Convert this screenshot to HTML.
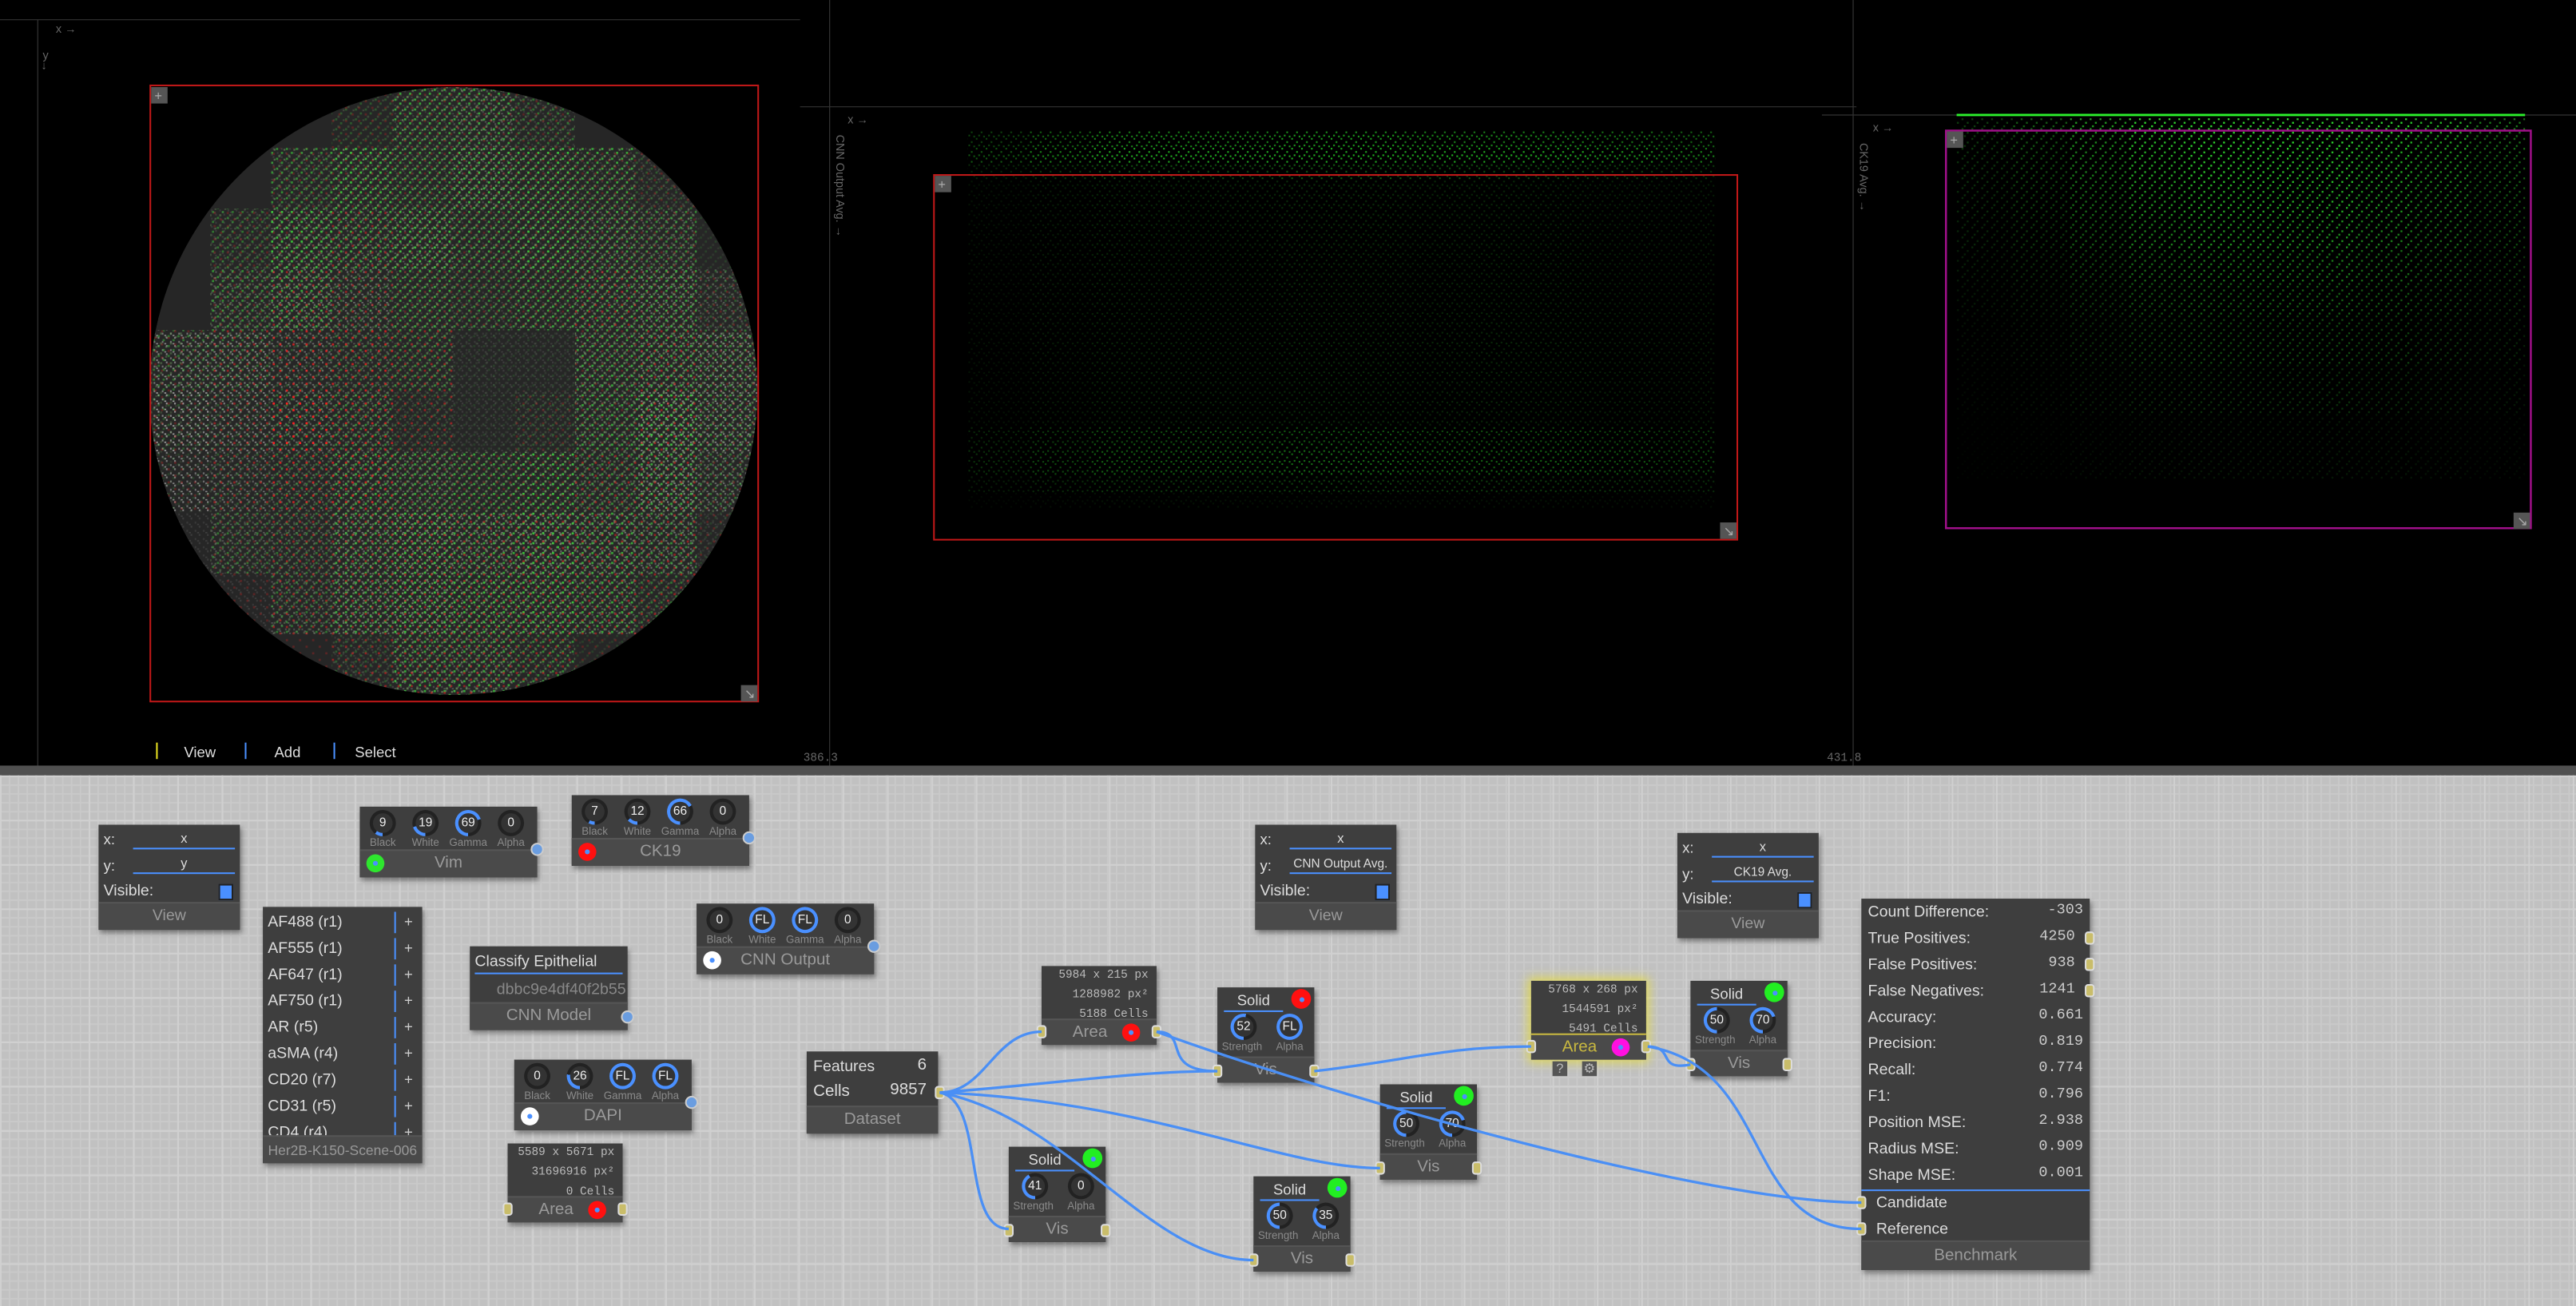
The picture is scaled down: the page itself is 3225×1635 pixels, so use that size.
<!DOCTYPE html>
<html><head><meta charset="utf-8">
<style>
html,body{margin:0;padding:0;width:3225px;height:1634px;overflow:hidden;background:#000}
#root{position:absolute;left:0;top:0;width:1568px;height:795px;transform:scale(2.05676);transform-origin:0 0;font-family:"Liberation Sans",sans-serif;overflow:hidden}
.abs{position:absolute}
#canvas{position:absolute;left:0;top:472px;width:1568px;height:323px;background-color:#c1c1c1;
background-image:linear-gradient(#d0d0d0 1px,transparent 1px),linear-gradient(90deg,#d0d0d0 1px,transparent 1px),linear-gradient(#c9c9c9 1px,transparent 1px),linear-gradient(90deg,#c9c9c9 1px,transparent 1px);
background-size:27px 27px,27px 27px,5.4px 5.4px,5.4px 5.4px}
.node{position:absolute;background:#3e3e3e;box-shadow:1px 2px 3px rgba(0,0,0,.4);color:#ddd;font-size:9px}
.foot{position:absolute;left:0;right:0;bottom:0;background:#4a4a4a;color:#9a9a9a;text-align:center;border-top:1px solid #555}
.port{position:absolute;width:6px;height:8px;background:#c9bd6a;border-radius:2px;border:1px solid #ddd;box-sizing:border-box}
.bport{position:absolute;width:8px;height:8px;border-radius:50%;background:#6a9de0;border:1px solid #ccc;box-sizing:border-box}
.knob{position:absolute;width:16px;height:16px;border-radius:50%;background:conic-gradient(from 180deg,#4a90ff calc(var(--p)*1%),#222 0)}
.knob span{position:absolute;left:2px;top:2px;width:12px;height:12px;border-radius:50%;background:#333;font-size:7.5px;color:#eee;text-align:center;line-height:12px}
.lbl{position:absolute;font-size:6.5px;color:#8a8a8a}
.dot{position:absolute;border-radius:50%}
.dot i{position:absolute;left:50%;top:50%;width:3px;height:3px;margin:-1.5px;border-radius:50%;background:#4a90ff}
.mono{font-family:"Liberation Mono",monospace}
.tbtn{position:absolute;width:9px;height:9px;background:#555;color:#bbb;font-size:8px;line-height:9px;text-align:center}
</style></head>
<body>
<div id="root">
<svg id="top" class="abs" width="1568" height="466" style="left:0;top:0;background:#000">
<defs>
<pattern id="pg" width="6" height="6" patternUnits="userSpaceOnUse"><rect x="0" y="0" width="1.3" height="1.3" fill="#3ddc3d"/><rect x="3" y="2.4" width="1.3" height="1.3" fill="#3ddc3d"/><rect x="1.4" y="4.4" width="1.3" height="1.3" fill="#6f9a5f"/><rect x="4.6" y="0.6" width="1.1" height="1.1" fill="#7a9a6a"/></pattern>
<pattern id="pw" width="5" height="5" patternUnits="userSpaceOnUse"><rect x="1" y="0" width="1" height="1.2" fill="#e8e8e8"/><rect x="3.5" y="2.5" width="1" height="1.2" fill="#cfcfcf"/><rect x="0" y="3.8" width="1.2" height="0.8" fill="#fff"/></pattern>
<pattern id="pr" width="8" height="8" patternUnits="userSpaceOnUse"><rect x="2" y="1" width="1.3" height="1.3" fill="#ff2020"/><rect x="6" y="5" width="1.3" height="1.3" fill="#ff2020"/></pattern>
<pattern id="pc" width="6" height="6" patternUnits="userSpaceOnUse"><rect x="0" y="0" width="1" height="1" fill="#22b022"/><rect x="3" y="2" width="1" height="1" fill="#22b022"/><rect x="1.5" y="4" width="1" height="1" fill="#22b022"/><rect x="4.5" y="4.6" width="1" height="1" fill="#22b022"/></pattern>
<pattern id="pk" width="6" height="6" patternUnits="userSpaceOnUse"><rect x="0" y="0" width="1.1" height="1.1" fill="#30e030"/><rect x="3.2" y="2.2" width="1.1" height="1.1" fill="#30e030"/><rect x="1.4" y="4.3" width="1.1" height="1.1" fill="#30e030"/></pattern>
<clipPath id="tclip"><circle cx="276" cy="238" r="185"/></clipPath>
</defs>
<g id="axes" stroke="#333" stroke-width="0.6">
<line x1="23" y1="12" x2="23" y2="466"/>
<line x1="0" y1="12" x2="487" y2="12"/>
<line x1="505" y1="0" x2="505" y2="466"/>
<line x1="487" y1="65" x2="1130" y2="65"/>
<line x1="1128" y1="0" x2="1128" y2="466"/>
<line x1="1109" y1="70" x2="1568" y2="70"/>
</g>
<circle cx="276" cy="238" r="185" fill="#262626"/>
<g id="tissue" clip-path="url(#tclip)"></g>
<g id="cnn"></g>
<g id="ck19"></g>
<line x1="1191" y1="70" x2="1537" y2="70" stroke="#2cf02c" stroke-width="1.4"/>
<rect x="91.5" y="52" width="370" height="375" fill="none" stroke="#c01818" stroke-width="1"/>
<rect x="568.5" y="106.5" width="489" height="222" fill="none" stroke="#c01818" stroke-width="1"/>
<rect x="1184.5" y="79.5" width="356" height="242" fill="none" stroke="#a0108a" stroke-width="1.2"/>
<g fill="#555">
<rect x="92" y="53" width="10" height="10"/>
<rect x="451" y="417" width="10" height="10"/>
<rect x="569" y="107" width="10" height="10"/>
<rect x="1047" y="318" width="10" height="10"/>
<rect x="1185" y="80" width="10" height="10"/>
<rect x="1530" y="312" width="10" height="10"/>
</g>
<g fill="#aaa" font-size="8" font-family="Liberation Sans, sans-serif">
<text x="94" y="61">+</text><text x="571" y="115">+</text><text x="1187" y="88">+</text>
<text x="453" y="425">↘</text><text x="1049" y="326">↘</text><text x="1532" y="320">↘</text>
</g>
<g fill="#666" font-size="7" font-family="Liberation Sans, sans-serif">
<text x="34" y="20">x →</text>
<text x="26" y="36">y</text>
<text x="25" y="42">↓</text>
<text x="516" y="75">x →</text>
<text x="1140" y="80">x →</text>
<text transform="translate(509,82) rotate(90)">CNN Output Avg. →</text>
<text transform="translate(1132,87) rotate(90)">CK19 Avg. →</text>
<text x="489" y="463" font-family="Liberation Mono, monospace">386.3</text>
<text x="1112" y="463" font-family="Liberation Mono, monospace">431.8</text>
</g>
<g font-size="9" fill="#ddd" font-family="Liberation Sans, sans-serif">
<rect x="95" y="452" width="1" height="10" fill="#e8e020"/>
<text x="112" y="461">View</text>
<rect x="149" y="452" width="1" height="10" fill="#4a90ff"/>
<text x="167" y="461">Add</text>
<rect x="203" y="452" width="1" height="10" fill="#4a90ff"/>
<text x="216" y="461">Select</text>
</g>
</svg>
<div class="abs" style="left:0;top:466px;width:1568px;height:6px;background:#505050"></div>
<div id="canvas"></div>
<div id="nodes"></div>
<svg id="wires" class="abs" width="1568" height="795" style="left:0;top:0;pointer-events:none">
<g fill="none" stroke="#4a8ff5" stroke-width="1.6">
<path d="M572,665 C600,665 605,628 634,628"/>
<path d="M572,665 C640,660 690,652 741,652"/>
<path d="M704,628 C725,628 705,652 741,652"/>
<path d="M800,652 C860,645 880,637 932,637"/>
<path d="M704,628 C820,670 1040,732 1133,732"/>
<path d="M1003,637 C1020,637 1008,652 1029,648"/>
<path d="M1003,637 C1080,650 1060,748 1133,748"/>
<path d="M572,665 C700,670 780,711 840,711"/>
<path d="M572,665 C600,670 585,748 614,748"/>
<path d="M572,665 C650,680 700,767 763,767"/>
</g>
</svg>
</div>
<script>
// ---- chart data ----
const tissueGreen = [
 [0,0,0,2,5,5,3,0,0,0],
 [0,0,4,6,5,6,6,5,2,0],
 [0,3,6,5,6,5,6,5,4,1],
 [0,4,5,3,5,4,5,5,5,2],
 [3,3,2,3,4,1,1,5,5,4],
 [2,2,3,4,2,1,2,5,6,4],
 [1,2,3,5,5,5,6,4,5,3],
 [0,3,3,5,6,5,6,5,4,1],
 [0,0,3,5,6,6,6,5,3,0],
 [0,0,0,2,5,5,4,1,0,0]];
const tissueWhite = [
 [0,0,0,0,1,2,1,0,0,0],
 [0,0,1,1,1,2,1,1,1,0],
 [0,1,2,2,2,1,1,2,2,0],
 [0,2,3,3,1,1,1,2,3,2],
 [4,4,3,2,1,1,1,2,3,4],
 [5,4,3,2,1,1,1,2,4,4],
 [4,3,2,2,2,1,1,2,4,3],
 [1,2,2,3,3,3,3,3,3,1],
 [0,1,2,3,3,2,2,2,1,0],
 [0,0,0,1,2,2,1,0,0,0]];
const tissueRed = [
 [0,0,0,1,1,1,1,0,0,0],
 [0,0,1,1,1,1,1,1,1,0],
 [0,1,1,2,1,1,1,1,1,0],
 [0,1,2,2,1,1,1,2,1,1],
 [1,2,3,3,2,0,0,1,2,1],
 [1,2,4,3,2,0,1,1,2,1],
 [1,2,3,3,1,1,1,2,2,1],
 [0,1,2,2,2,2,2,2,2,1],
 [0,1,2,2,2,2,2,2,2,0],
 [0,0,1,2,2,2,2,1,0,0]];
const cnnRowDensity = [7,9,4,2,2,2,2,2,2,2,2,2,2,2,2,2,2,2,4,5,5,3,1];
const cnnColDensity = [4,6,8,8,8,9,9,8,8,8,7,6];
const cnnYMin = 80, cnnYStep = 10;
const ck19RowDensity = [10,9,8,8,7,7,6,6,5,5,4,4,3,3,3,2,2,2,1,1,1,1,0];
const ck19ColDensity = [2,3,5,7,8,8,8,7,6,4];
const ck19YMin = 72, ck19YStep = 10;

const NS='http://www.w3.org/2000/svg';
function tissueX(c){return 91+c*37;}
function tissueY(r){return 53+r*37;}
function cnnX(c){return 589+c*(1044-589)/cnnColDensity.length;}
function cnnY(r){return cnnYMin+r*cnnYStep;}
function ck19X(c){return 1191+c*(1537-1191)/ck19ColDensity.length;}
function ck19Y(r){return ck19YMin+r*ck19YStep;}

function cell(g,x,y,w,h,fill,op,name){
  const r=document.createElementNS(NS,'rect');
  r.setAttribute('x',x);r.setAttribute('y',y);r.setAttribute('width',w);r.setAttribute('height',h);
  r.setAttribute('fill',fill);r.setAttribute('opacity',Math.min(1,op));
  
  
  g.appendChild(r);
}
const tg=document.getElementById('tissue');
for(let r=0;r<10;r++)for(let c=0;c<10;c++){
  if(tissueWhite[r][c]) cell(tg,tissueX(c),tissueY(r),37,37,'url(#pw)',tissueWhite[r][c]/9,'tissue-white-cell');
}
for(let r=0;r<10;r++)for(let c=0;c<10;c++){
  if(tissueGreen[r][c]) cell(tg,tissueX(c),tissueY(r),37,37,'url(#pg)',tissueGreen[r][c]/7,'tissue-green-cell');
}
for(let r=0;r<10;r++)for(let c=0;c<10;c++){
  if(tissueRed[r][c]) cell(tg,tissueX(c),tissueY(r),37,37,'url(#pr)',tissueRed[r][c]/4,'tissue-red-cell');
}
const cg=document.getElementById('cnn');
for(let r=0;r<cnnRowDensity.length;r++)for(let c=0;c<cnnColDensity.length;c++){
  const v=cnnRowDensity[r]*cnnColDensity[c]/70;
  if(v>0) cell(cg,cnnX(c),cnnY(r),cnnX(c+1)-cnnX(c),cnnYStep,'url(#pc)',v,'cnn-density-cell');
}
const kg=document.getElementById('ck19');
for(let r=0;r<ck19RowDensity.length;r++)for(let c=0;c<ck19ColDensity.length;c++){
  const v=ck19RowDensity[r]*ck19ColDensity[c]/70;
  if(v>0) cell(kg,ck19X(c),ck19Y(r),ck19X(c+1)-ck19X(c),ck19YStep,'url(#pk)',v,'ck19-density-cell');
}

// ---- nodes ----
const host=document.getElementById('nodes');
function div(parent,cls,style,html){
  const d=document.createElement('div');
  if(cls)d.className=cls;
  d.setAttribute('style',style);
  if(html!==undefined)d.innerHTML=html;
  parent.appendChild(d);return d;
}
function node(x,y,w,h,extra){return div(host,'node','left:'+x+'px;top:'+y+'px;width:'+w+'px;height:'+h+'px;'+(extra||''));}
function knob(p,cx,cy,val,pct){
  const k=div(p,'knob','left:'+(cx-8)+'px;top:'+(cy-8)+'px;--p:'+pct,'<span>'+val+'</span>');
  
  
  return k;
}
function port(p,x,y){
  const e=div(p,'port','left:'+x+'px;top:'+y+'px');
  
  
}
function bport(p,x,y){
  const e=div(p,'bport','left:'+x+'px;top:'+y+'px');
  
  
}
function colorDot(p,x,y,d,col){
  const e=div(p,'dot','left:'+x+'px;top:'+y+'px;width:'+d+'px;height:'+d+'px;background:'+col,'<i></i>');
  
  
}

function viewNode(x,y,yLabel,name){
  const n=node(x,y,86,64);
  
  
  div(n,'abs','left:3px;top:4px;font-size:9px','x:');
  div(n,'abs','left:21px;top:3px;width:62px;text-align:center;font-size:8px;border-bottom:1px solid #4a90ff;line-height:11px','x');
  div(n,'abs','left:3px;top:20px;font-size:9px','y:');
  div(n,'abs','left:21px;top:18px;width:62px;text-align:center;font-size:'+(yLabel.length>5?7.5:8)+'px;border-bottom:1px solid #4a90ff;line-height:11px;white-space:nowrap;overflow:hidden',yLabel);
  div(n,'abs','left:3px;top:35px;font-size:9.5px','Visible:');
  const cb=div(n,'abs','left:73px;top:36px;width:7px;height:8px;background:#4a90ff;border:1px solid #222');
  
  
  div(n,'foot','height:16px;line-height:16px;font-size:9.5px','View');
}
viewNode(60,502,'y','view-node-xy');
viewNode(764,502,'CNN Output Avg.','view-node-cnn');
viewNode(1021,507,'CK19 Avg.','view-node-ck19');

function chanNode(x,y,vals,pcts,labels,col,title,name){
  const n=node(x,y,108,43);
  
  
  for(let i=0;i<4;i++){knob(n,14+i*26,10,vals[i],pcts[i]);div(n,'lbl','left:'+(i*26)+'px;top:19px;width:28px;text-align:center',labels[i]);}
  const f=div(n,'foot','height:16px;line-height:16px;font-size:10px',title);
  colorDot(f,4,2,11,col);
  bport(n,104,22);
}
const L4=['Black','White','Gamma','Alpha'];
chanNode(219,491,[9,19,69,0],[10,20,70,0],L4,'#2ee62e','Vim','vim-channel-node');
chanNode(348,484,[7,12,66,0],[8,13,67,0],L4,'#ff1010','CK19','ck19-channel-node');
chanNode(424,550,[0,'FL','FL',0],[0,100,100,0],L4,'#ffffff','CNN Output','cnn-output-channel-node');
chanNode(313,645,[0,26,'FL','FL'],[0,27,100,100],L4,'#ffffff','DAPI','dapi-channel-node');

const chans=['AF488 (r1)','AF555 (r1)','AF647 (r1)','AF750 (r1)','AR (r5)','aSMA (r4)','CD20 (r7)','CD31 (r5)','CD4 (r4)'];
const cl=node(160,552,97,156);


const clip=div(cl,'abs','left:0;top:0;width:97px;height:140px;overflow:hidden');
chans.forEach((c,i)=>{
  const it=div(clip,'abs','left:3px;top:'+(3+i*16)+'px;width:92px;height:13px;font-size:9.5px;line-height:13px',c);
  
  
  div(it,'abs','left:77px;top:0;width:1px;height:13px;background:#4a90ff');
  div(it,'abs','left:83px;top:0;font-size:9px;color:#ccc','+');
});
div(cl,'foot','height:16px;line-height:16px;font-size:8.5px;color:#999;white-space:nowrap','Her2B-K150-Scene-006');

const cm=node(286,576,96,51);


div(cm,'abs','left:3px;top:4px;width:90px;font-size:9.5px;border-bottom:1px solid #4a90ff;line-height:12px','Classify Epithelial');
div(cm,'abs','left:2px;top:21px;width:93px;overflow:hidden;white-space:nowrap;font-size:9.5px;color:#888;direction:rtl','dbbc9e4df40f2b55');
div(cm,'foot','height:16px;line-height:16px;font-size:10px','CNN Model');
bport(cm,92,39);

function areaNode(x,y,l1,l2,l3,col,hl,name){
  const n=node(x,y,70,48,hl?'box-shadow:0 0 6px 2px rgba(230,220,60,.8);':'');
  
  
  [l1,l2,l3].forEach((t,i)=>div(n,'abs mono','right:5px;top:'+(2+i*12)+'px;font-size:7px;color:#bbb;white-space:nowrap',t));
  const f=div(n,'foot','height:15px;line-height:15px;font-size:10px;'+(hl?'color:#c8b840;border-top:1px solid #c8b840;':''),'Area&nbsp;&nbsp;&nbsp;&nbsp;');
  colorDot(f,49,2,11,col);
  port(n,-3,36);port(n,67,36);
  return n;
}
areaNode(309,696,'5589 x 5671 px','31696916 px²','0 Cells','#ff1010',false,'area-node-full');
areaNode(634,588,'5984 x 215 px','1288982 px²','5188 Cells','#ff1010',false,'area-node-cnn');
areaNode(932,597,'5768 x 268 px','1544591 px²','5491 Cells','#ff10e0',true,'area-node-ck19');
const q=div(host,'tbtn','left:945px;top:646px','?');


const gr=div(host,'tbtn','left:963px;top:646px','⚙');



const ds=node(491,640,80,50);


div(ds,'abs','left:4px;top:4px;font-size:9.5px','Features');
div(ds,'abs','right:7px;top:3px;font-size:10px','6');
div(ds,'abs','left:4px;top:19px;font-size:10px','Cells');
div(ds,'abs','right:7px;top:18px;font-size:10px','9857');
div(ds,'foot','height:16px;line-height:16px;font-size:10px','Dataset');
port(ds,78,21);

function visNode(x,y,col,v1,p1,v2,p2,name){
  const n=node(x,y,59,58);
  
  
  div(n,'abs','left:4px;top:2px;width:36px;text-align:center;font-size:9px;border-bottom:1px solid #4a90ff;line-height:12px','Solid');
  colorDot(n,45,1,12,col);
  knob(n,16,24,v1,p1);knob(n,44,24,v2,p2);
  div(n,'lbl','left:0;top:33px;width:30px;text-align:center','Strength');
  div(n,'lbl','left:30px;top:33px;width:28px;text-align:center','Alpha');
  div(n,'foot','height:15px;line-height:15px;font-size:10px','Vis');
  port(n,-3,47);port(n,56,47);
}
visNode(741,601,'#ff1010',52,53,'FL',100,'vis-node-red');
visNode(1029,597,'#22ee22',50,50,70,70,'vis-node-green-ck19');
visNode(840,660,'#22ee22',50,50,70,70,'vis-node-green-mid');
visNode(614,698,'#22ee22',41,42,0,0,'vis-node-green-left');
visNode(763,716,'#22ee22',50,50,35,36,'vis-node-green-bottom');

const rows=[['Count Difference:','-303'],['True Positives:','4250'],['False Positives:','938'],['False Negatives:','1241'],['Accuracy:','0.661'],['Precision:','0.819'],['Recall:','0.774'],['F1:','0.796'],['Position MSE:','2.938'],['Radius MSE:','0.909'],['Shape MSE:','0.001']];
const bm=node(1133,547,139,226);


rows.forEach((r,i)=>{
  const l=div(bm,'abs','left:4px;top:'+(2+i*16)+'px;font-size:9.5px;line-height:13px',r[0]);
  
  
  const hasPort=(i>=1&&i<=3);
  const v=div(bm,'abs mono','right:'+(hasPort?9:4)+'px;top:'+(1+i*16)+'px;font-size:9px;color:#ccc;line-height:13px',r[1]);
  
  
  if(hasPort)port(bm,136,4+i*16);
});
div(bm,'abs','left:0;top:177px;width:139px;height:1px;background:#4a90ff');
div(bm,'abs','left:9px;top:180px;font-size:9.5px','Candidate');
div(bm,'abs','left:9px;top:196px;font-size:9.5px','Reference');
port(bm,-3,181);port(bm,-3,197);
div(bm,'foot','height:17px;line-height:17px;font-size:10px','Benchmark');
</script>
</body></html>
